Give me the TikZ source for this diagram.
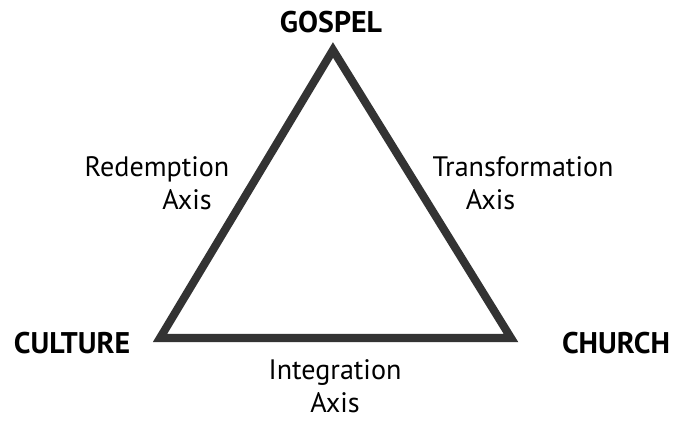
\documentclass[tikz,border=0pt]{standalone}
\usepackage{fontspec}
\setmainfont{PT Sans}
\definecolor{edgegray}{HTML}{333333}
\tikzset{
  corner/.style={font=\fontsize{17}{19}\selectfont\bfseries,inner sep=0pt},
  axis/.style={font=\fontsize{16}{19}\selectfont,align=center,inner sep=0pt}
}
\begin{document}
\begin{tikzpicture}[x=0.02cm,y=-0.02cm]
			\useasboundingbox (0,0) rectangle (675,423);
			\coordinate (G) at (333,50);
			\coordinate (L) at (160,338);
			\coordinate (R) at (511,338);
			
			\draw[edgegray,line width=4.6pt,line join=miter] (G) -- (R) -- (L) -- cycle;
			
			\begin{scope}[every node/.style={corner}]
			\node (gospel) at (331,22) {GOSPEL};
			\node (culture) at (72,343) {CULTURE};
			\node (church) at (616,343) {CHURCH};
			\end{scope}
			
			\begin{scope}[every node/.style={axis}]
			\node (redemption) at (157,183) {Redemption\\\hspace*{1.2cm}Axis};
			\node (transformation) at (523,183) {Transformation\\Axis\hspace*{1.3cm}};
			\node (integration) at (335,386) {Integration\\Axis};
			\end{scope}
			\end{tikzpicture}
\end{document}
